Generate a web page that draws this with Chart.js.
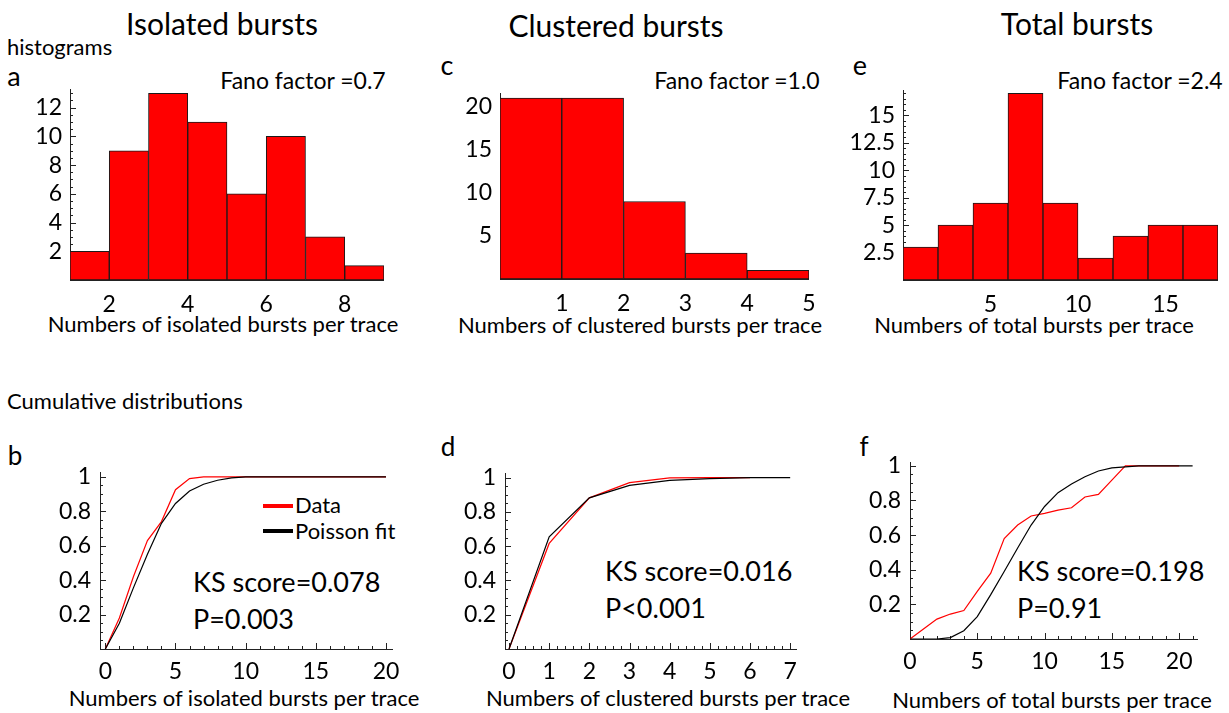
<!DOCTYPE html>
<html>
<head>
<meta charset="utf-8">
<script src="https://cdn.jsdelivr.net/npm/chart.js@4.4.1/dist/chart.umd.min.js"></script>
<style>
  body { margin: 0; background: #fff; }
  #page { position: relative; width: 1229px; height: 713px; overflow: hidden; font-family: Lato, sans-serif; color: #000; }
  #page canvas { position: absolute; }
  .t { position: absolute; white-space: nowrap; line-height: 1; }
  .c { transform: translate(-50%, -50%); }
  .l { transform: translateY(-50%); }
  .sw { position: absolute; height: 4px; }
</style>
</head>
<body>
<div id="page">
  <div class="t c" style="left:222px;top:23px;font-size:30px;">Isolated bursts</div>
  <div class="t c" style="left:616px;top:25px;font-size:30px;">Clustered bursts</div>
  <div class="t c" style="left:1077px;top:23px;font-size:30px;">Total bursts</div>

  <div class="t l" style="left:7px;top:47px;font-size:22px;">histograms</div>
  <div class="t l" style="left:7px;top:401px;font-size:22px;">Cumulative distributions</div>

  <div class="t c" style="left:14px;top:75px;font-size:27px;">a</div>
  <div class="t c" style="left:447px;top:64px;font-size:27px;">c</div>
  <div class="t c" style="left:860px;top:64px;font-size:27px;">e</div>
  <div class="t c" style="left:15px;top:455px;font-size:26px;">b</div>
  <div class="t c" style="left:448px;top:446px;font-size:26px;">d</div>
  <div class="t c" style="left:864px;top:446px;font-size:26px;">f</div>

  <div class="t c" style="left:303px;top:80px;font-size:23px;">Fano factor =0.7</div>
  <div class="t c" style="left:737px;top:80px;font-size:23px;">Fano factor =1.0</div>
  <div class="t c" style="left:1140px;top:80px;font-size:23px;">Fano factor =2.4</div>

  <div class="t c" style="left:223px;top:324px;font-size:22px;">Numbers of isolated bursts per trace</div>
  <div class="t c" style="left:640px;top:325px;font-size:22px;">Numbers of clustered bursts per trace</div>
  <div class="t c" style="left:1034px;top:325px;font-size:22px;">Numbers of total bursts per trace</div>
  <div class="t c" style="left:244px;top:698px;font-size:22px;">Numbers of isolated bursts per trace</div>
  <div class="t c" style="left:668px;top:698px;font-size:22px;">Numbers of clustered bursts per trace</div>
  <div class="t c" style="left:1052px;top:700px;font-size:22px;">Numbers of total bursts per trace</div>

  <div class="sw" style="left:263px;top:504px;width:30px;background:#ff0000;"></div>
  <div class="t l" style="left:295px;top:505px;font-size:22px;">Data</div>
  <div class="sw" style="left:263px;top:529px;width:30px;background:#000;"></div>
  <div class="t l" style="left:295px;top:531px;font-size:22px;">Poisson fit</div>

  <div class="t l" style="left:193px;top:581px;font-size:27px;">KS score=0.078</div>
  <div class="t l" style="left:193px;top:618px;font-size:27px;">P=0.003</div>
  <div class="t l" style="left:605px;top:570px;font-size:27px;">KS score=0.016</div>
  <div class="t l" style="left:605px;top:607px;font-size:27px;">P&lt;0.001</div>
  <div class="t l" style="left:1017px;top:570px;font-size:27px;">KS score=0.198</div>
  <div class="t l" style="left:1017px;top:607px;font-size:27px;">P=0.91</div>

  <canvas id="ca"></canvas>
  <canvas id="cc"></canvas>
  <canvas id="ce"></canvas>
  <canvas id="cb"></canvas>
  <canvas id="cd"></canvas>
  <canvas id="cf"></canvas>
</div>

<script>
// histograms (bin left edges + counts)
const isoEdges = [1, 2, 3, 4, 5, 6, 7, 8];
const isoCounts = [2, 9, 13, 11, 6, 10, 3, 1];
const cluEdges = [0, 1, 2, 3, 4];
const cluCounts = [21, 21, 9, 3, 1];
const totEdges = [0, 2, 4, 6, 8, 10, 12, 14, 16];
const totCounts = [3, 5, 7, 17, 7, 2, 4, 5, 5];

// cumulative distributions
const isoX = [0, 1, 2, 3, 4, 5, 6, 7, 8, 9, 10, 11, 12, 13, 14, 15, 16, 17, 18, 19, 20];
const isoData = [0, 0.18, 0.42, 0.63, 0.74, 0.925, 0.99, 1, 1, 1, 1, 1, 1, 1, 1, 1, 1, 1, 1, 1, 1];
const isoFit = [0, 0.15, 0.355, 0.55, 0.73, 0.845, 0.918, 0.957, 0.98, 0.994, 1, 1, 1, 1, 1, 1, 1, 1, 1, 1, 1];

const cluX = [0, 1, 2, 3, 4, 5, 6, 7];
const cluData = [0, 0.616, 0.882, 0.971, 0.998, 1, 1];
const cluFit = [0, 0.655, 0.882, 0.955, 0.984, 0.994, 1, 1];

const totX = [0, 1, 2, 3, 4, 5, 6, 7, 8, 9, 10, 11, 12, 13, 14, 15, 16, 17, 18, 19, 20, 21];
const totData = [0, 0.058, 0.115, 0.144, 0.164, 0.275, 0.38, 0.58, 0.658, 0.71, 0.725, 0.744, 0.758, 0.82, 0.835, 0.917, 1, 1, 1, 1, 1];
const totFit = [0, 0, 0, 0.008, 0.048, 0.129, 0.256, 0.39, 0.525, 0.658, 0.765, 0.845, 0.895, 0.937, 0.97, 0.988, 0.994, 1, 1, 1, 1, 1];

// tick labels
const isoHistXTicks = [2, 4, 6, 8];
const isoHistYTicks = [2, 4, 6, 8, 10, 12];
const cluHistXTicks = [1, 2, 3, 4, 5];
const cluHistYTicks = [5, 10, 15, 20];
const totHistXTicks = [5, 10, 15];
const totHistYTicks = [2.5, 5, 7.5, 10, 12.5, 15];
const isoCdfXTicks = [0, 5, 10, 15, 20];
const cluCdfXTicks = [0, 1, 2, 3, 4, 5, 6, 7];
const totCdfXTicks = [0, 5, 10, 15, 20];
const cdfYTicks = [0.2, 0.4, 0.6, 0.8, 1];

Chart.defaults.font.family = 'Lato';
Chart.defaults.color = '#000';

const YW = 70, XH = 50, PT = 24, PR = 26;

// axis lines + small inward ticks like the original plots
const axisTicks = {
    id: 'axisTicks',
    beforeDatasetsDraw(chart, args, o) {
        const { ctx, chartArea: a, scales: { x, y } } = chart;
        const marks = (scale, step, list) => {
            const out = [];
            if (step) {
                const n0 = Math.ceil(scale.min / step - 1e-9);
                for (let i = n0; i * step <= scale.max + 1e-9; i++) out.push(i * step);
            }
            return out.concat(list || []);
        };
        ctx.save();
        ctx.strokeStyle = '#222';
        ctx.lineWidth = 1;
        ctx.beginPath();
        ctx.moveTo(a.left + 0.5, a.top);
        ctx.lineTo(a.left + 0.5, a.bottom);
        ctx.moveTo(a.left, a.bottom + 0.5);
        ctx.lineTo(a.right, a.bottom + 0.5);
        marks(y, o.yMinor).forEach(v => {
            const p = Math.round(y.getPixelForValue(v)) + 0.5;
            ctx.moveTo(a.left, p); ctx.lineTo(a.left + 3, p);
        });
        marks(y, 0, o.yMajor).forEach(v => {
            const p = Math.round(y.getPixelForValue(v)) + 0.5;
            ctx.moveTo(a.left, p); ctx.lineTo(a.left + 6, p);
        });
        marks(x, o.xMinor).forEach(v => {
            const p = Math.round(x.getPixelForValue(v)) + 0.5;
            ctx.moveTo(p, a.bottom); ctx.lineTo(p, a.bottom - 3);
        });
        marks(x, 0, o.xMajor).forEach(v => {
            const p = Math.round(x.getPixelForValue(v)) + 0.5;
            ctx.moveTo(p, a.bottom); ctx.lineTo(p, a.bottom - 6);
        });
        ctx.stroke();
        ctx.restore();
    }
};

function place(id, area) {
    const cv = document.getElementById(id);
    const w = area.r - area.l + YW + PR;
    const h = area.b - area.t + PT + XH;
    cv.width = w; cv.height = h;
    cv.style.left = (area.l - YW) + 'px';
    cv.style.top = (area.t - PT) + 'px';
    cv.style.width = w + 'px';
    cv.style.height = h + 'px';
    return cv.getContext('2d');
}

function axis(min, max, tickList, pad, isX) {
    return {
        type: 'linear',
        min: min,
        max: max,
        offset: false,
        grid: { display: false, drawTicks: false, offset: false },
        border: { display: false },
        afterBuildTicks: s => { s.ticks = tickList.map(v => ({ value: v })); },
        afterFit: s => { if (isX) s.height = XH; else s.width = YW; },
        ticks: {
            font: { size: 23 },
            color: '#000',
            padding: pad,
            maxRotation: 0,
            autoSkip: false,
            callback: v => String(v)
        }
    };
}

function baseOptions(xs, ys, tickOpts) {
    return {
        responsive: false,
        animation: false,
        events: [],
        layout: { autoPadding: false, padding: { top: PT, right: PR, left: 0, bottom: 0 } },
        scales: { x: xs, y: ys },
        plugins: { legend: { display: false }, tooltip: { enabled: false }, axisTicks: tickOpts }
    };
}

function histChart(id, area, edges, counts, binW, xr, yr, xTicks, yTicks, tickOpts) {
    const ctx = place(id, area);
    new Chart(ctx, {
        type: 'bar',
        data: {
            datasets: [{
                data: edges.map((e, i) => ({ x: e + binW / 2, y: counts[i] })),
                backgroundColor: '#ff0000',
                borderColor: '#1a1a1a',
                borderWidth: 1,
                borderSkipped: false,
                barPercentage: 1,
                categoryPercentage: 1
            }]
        },
        options: baseOptions(axis(xr[0], xr[1], xTicks, 11, true), axis(yr[0], yr[1], yTicks, 8, false), tickOpts),
        plugins: [axisTicks]
    });
}

function cdfChart(id, area, xs, dataVals, fitVals, xr, yr, xTicks, tickOpts) {
    const ctx = place(id, area);
    new Chart(ctx, {
        type: 'line',
        data: {
            datasets: [
                {
                    label: 'Poisson fit',
                    data: fitVals.map((v, i) => ({ x: xs[i], y: v })),
                    borderColor: '#000',
                    borderWidth: 1.2,
                    pointRadius: 0,
                    tension: 0
                },
                {
                    label: 'Data',
                    data: dataVals.map((v, i) => ({ x: xs[i], y: v })),
                    borderColor: '#ff0000',
                    borderWidth: 1.2,
                    pointRadius: 0,
                    tension: 0
                }
            ]
        },
        options: baseOptions(axis(xr[0], xr[1], xTicks, 9, true), axis(yr[0], yr[1], cdfYTicks, 9, false), tickOpts),
        plugins: [axisTicks]
    });
}

histChart('ca', { l: 70, t: 89, r: 384, b: 280 }, isoEdges, isoCounts, 1, [1, 9], [0, 13.3],
    isoHistXTicks, isoHistYTicks, { yMinor: 0.5, yMajor: isoHistYTicks });
histChart('cc', { l: 500, t: 93, r: 809, b: 279 }, cluEdges, cluCounts, 1, [0, 5], [0, 21.6],
    cluHistXTicks, cluHistYTicks, { yMinor: 1, yMajor: cluHistYTicks });
histChart('ce', { l: 903, t: 90, r: 1218, b: 280 }, totEdges, totCounts, 2, [0, 18], [0, 17.3],
    totHistXTicks, totHistYTicks, { yMinor: 0.5, yMajor: totHistYTicks });

cdfChart('cb', { l: 100, t: 472, r: 393, b: 649 }, isoX, isoData, isoFit, [-0.38, 20.5], [0, 1.028],
    isoCdfXTicks, { yMinor: 0.05, yMajor: cdfYTicks, xMinor: 1, xMajor: isoCdfXTicks });
cdfChart('cd', { l: 505, t: 473, r: 797, b: 649 }, cluX, cluData, cluFit, [-0.1, 7.17], [0, 1.027],
    cluCdfXTicks, { yMinor: 0.05, yMajor: cdfYTicks, xMinor: 0.2, xMajor: cluCdfXTicks });
cdfChart('cf', { l: 910, t: 462, r: 1198, b: 639 }, totX, totData, totFit, [0, 21.4], [0, 1.022],
    totCdfXTicks, { yMinor: 0.05, yMajor: cdfYTicks, xMinor: 1, xMajor: totCdfXTicks });
</script>
</body>
</html>
